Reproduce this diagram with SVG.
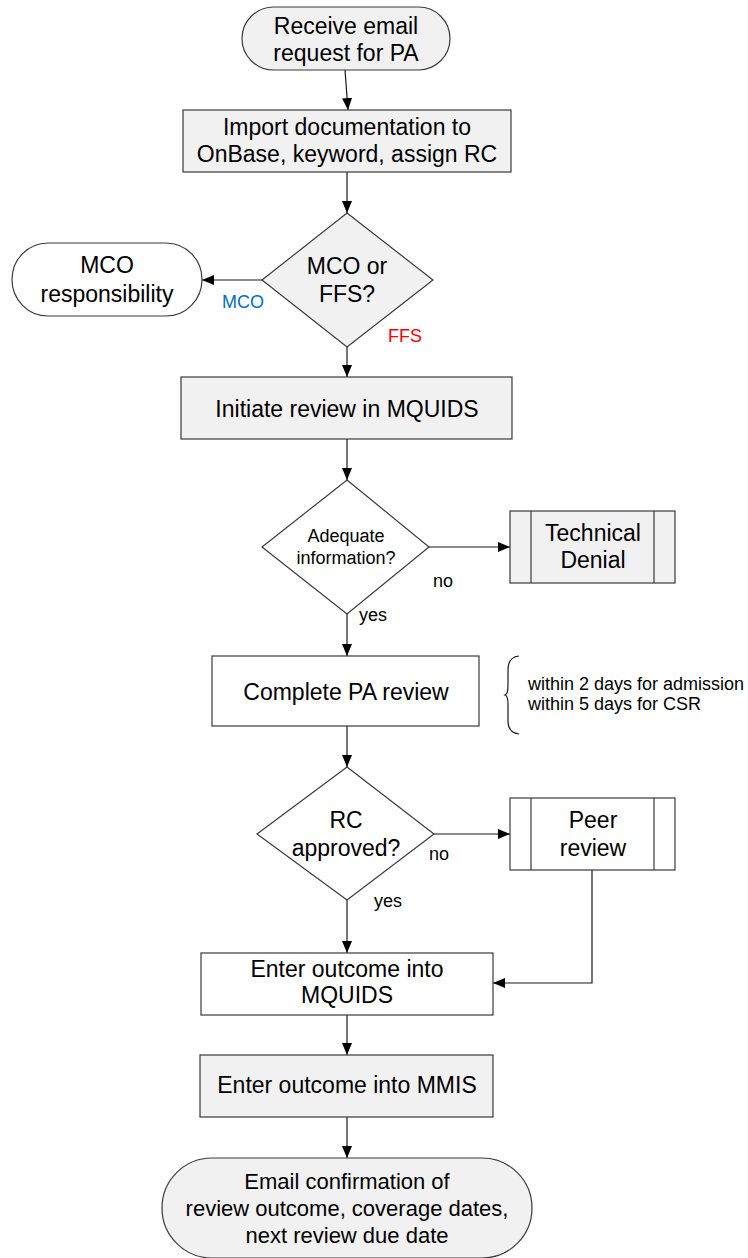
<svg xmlns="http://www.w3.org/2000/svg" width="748" height="1258" viewBox="0 0 748 1258">
  <style>
    .shape { stroke: #3a3a3a; stroke-width: 1.2; }
    .gray { fill: #f1f1f1; }
    .white { fill: #ffffff; }
    .t { font-family: "Liberation Sans", Arial, sans-serif; font-size: 23px; fill: #000; text-anchor: middle; }
    .s { font-family: "Liberation Sans", Arial, sans-serif; font-size: 18px; fill: #000; }
    .link { fill: none; stroke: #1a1a1a; stroke-width: 1.2; marker-end: url(#arrow); }
    .plain { fill: none; stroke: #1a1a1a; stroke-width: 1.2; }
  </style>
  <defs>
    <marker id="arrow" markerUnits="userSpaceOnUse" markerWidth="12" markerHeight="10" refX="12" refY="5" orient="auto">
      <path d="M0,0 L12,5 L0,10 Z" fill="#000"/>
    </marker>
  </defs>

  <rect width="748" height="1258" fill="#fff"/>

  <!-- connectors -->
  <g id="connectors">
    <path class="link" d="M345,70 L348,110"/>
    <path class="link" d="M347,172 L347,213"/>
    <path class="link" d="M262,280 L202,280"/>
    <path class="link" d="M347,347 L347,377"/>
    <path class="link" d="M347,439 L347,480"/>
    <path class="link" d="M429,547 L510,547"/>
    <path class="link" d="M347,614 L347,656"/>
    <path class="link" d="M347,726 L347,767"/>
    <path class="link" d="M434,834 L510,834"/>
    <path class="link" d="M347,900 L347,953"/>
    <path class="link" d="M592,870 L592,983 L493,983"/>
    <path class="link" d="M347,1015 L347,1055"/>
    <path class="link" d="M347,1117 L347,1158"/>
  </g>

  <!-- connector labels -->
  <g id="labels">
    <text class="s" x="222" y="308" style="fill:#0070c0">MCO</text>
    <text class="s" x="388" y="342" style="fill:#ff0000">FFS</text>
    <text class="s" x="433" y="587">no</text>
    <text class="s" x="359" y="621">yes</text>
    <text class="s" x="429" y="860">no</text>
    <text class="s" x="374" y="907">yes</text>
  </g>

  <g id="start">
    <rect class="shape gray" x="242" y="7" width="208" height="63" rx="31.5" ry="31.5"/>
    <text class="t" x="346" y="34">Receive email</text>
    <text class="t" x="346" y="61">request for PA</text>
  </g>

  <g id="import">
    <rect class="shape gray" x="183" y="110" width="328" height="62"/>
    <text class="t" x="347" y="135">Import documentation to</text>
    <text class="t" x="347" y="162">OnBase, keyword, assign RC</text>
  </g>

  <g id="mco-or-ffs">
    <polygon class="shape gray" points="347,213 433,280 347,347 262,280"/>
    <text class="t" x="347" y="274">MCO or</text>
    <text class="t" x="347" y="302">FFS?</text>
  </g>

  <g id="mco-responsibility">
    <rect class="shape white" x="12" y="243" width="190" height="73" rx="36" ry="36.5"/>
    <text class="t" x="107" y="273">MCO</text>
    <text class="t" x="107" y="302">responsibility</text>
  </g>

  <g id="initiate-review">
    <rect class="shape gray" x="181" y="377" width="331" height="62"/>
    <text class="t" x="347" y="417">Initiate review in MQUIDS</text>
  </g>

  <g id="adequate-info">
    <polygon class="shape white" points="347,480 429,547 347,614 262,547"/>
    <text class="s" x="346" y="542" text-anchor="middle">Adequate</text>
    <text class="s" x="346" y="564" text-anchor="middle">information?</text>
  </g>

  <g id="technical-denial">
    <rect class="shape gray" x="510" y="511" width="165" height="72"/>
    <line class="shape" x1="531" y1="511" x2="531" y2="583"/>
    <line class="shape" x1="654" y1="511" x2="654" y2="583"/>
    <text class="t" x="593" y="541">Technical</text>
    <text class="t" x="593" y="568">Denial</text>
  </g>

  <g id="complete-review">
    <rect class="shape white" x="212" y="656" width="267" height="70"/>
    <text class="t" x="346" y="700">Complete PA review</text>
  </g>

  <!-- curly brace with turnaround times -->
  <g id="timeframe-note">
    <path class="plain" d="M519,656 Q508,657 508,670 L508,686 Q508,694 505,695 Q508,696 508,704 L508,721 Q508,733 519,734"/>
    <text class="s" x="528" y="690">within 2 days for admission</text>
    <text class="s" x="528" y="710">within 5 days for CSR</text>
  </g>

  <g id="rc-approved">
    <polygon class="shape white" points="347,767 434,834 347,900 257,834"/>
    <text class="t" x="346" y="828">RC</text>
    <text class="t" x="346" y="856">approved?</text>
  </g>

  <g id="peer-review">
    <rect class="shape white" x="510" y="798" width="165" height="72"/>
    <line class="shape" x1="531" y1="798" x2="531" y2="870"/>
    <line class="shape" x1="654" y1="798" x2="654" y2="870"/>
    <text class="t" x="593" y="828">Peer</text>
    <text class="t" x="593" y="856">review</text>
  </g>

  <g id="enter-mquids">
    <rect class="shape white" x="201" y="953" width="292" height="62"/>
    <text class="t" x="347" y="977">Enter outcome into</text>
    <text class="t" x="347" y="1003">MQUIDS</text>
  </g>

  <g id="enter-mmis">
    <rect class="shape gray" x="200" y="1055" width="293" height="62"/>
    <text class="t" x="347" y="1093">Enter outcome into MMIS</text>
  </g>

  <g id="email-confirmation">
    <rect class="shape gray" x="162" y="1158" width="370" height="100" rx="50" ry="50"/>
    <text class="t" x="347" y="1189" style="font-size:22px">Email confirmation of</text>
    <text class="t" x="347" y="1216" style="font-size:22px">review outcome, coverage dates,</text>
    <text class="t" x="347" y="1243" style="font-size:22px">next review due date</text>
  </g>
</svg>
